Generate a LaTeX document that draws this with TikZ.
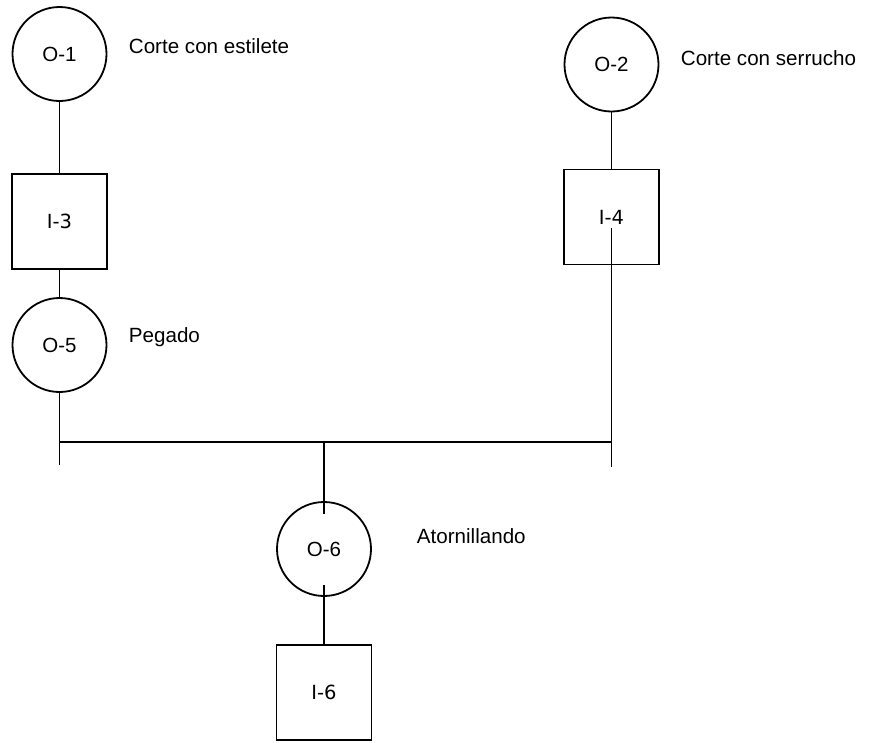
\documentclass[tikz,border=0pt]{standalone}
\usepackage{fontspec}
\setmainfont{Liberation Sans}
\newfontfamily\boxfont{DejaVu Sans}
\begin{document}
\begin{tikzpicture}[x=1pt,y=-1pt,
  line width=1.8pt,
  opnode/.style={draw,circle,minimum size=94pt,inner sep=0pt,
    font=\fontsize{20.5}{24}\selectfont},
  insnode/.style={draw,rectangle,minimum width=95pt,minimum height=95pt,
    inner sep=0pt,font=\boxfont\fontsize{19.5}{23}\selectfont},
  note/.style={anchor=base west,inner sep=0pt,font=\fontsize{20.6}{24}\selectfont}]
\useasboundingbox (0,0) rectangle (870,742);

% operations and inspections
\node[opnode]  (o1) at (59.5,54)  {O-1};
\node[insnode] (i3) at (59.5,221.5) {I-3};
\node[opnode]  (o5) at (59.5,345) {O-5};
\node[opnode]  (o2) at (611.5,64.5) {O-2};
\node[insnode] (i4) at (611.5,217) {I-4};
\node[opnode]  (o6) at (324,549) {O-6};
\node[insnode] (i6) at (324,692.5) {I-6};

% descriptions
\node[note] (t1) at (128,53)  {Corte con estilete};
\node[note] (t2) at (680,65)  {Corte con serrucho};
\node[note] (t5) at (128,342) {Pegado};
\node[note] (t6) at (416,543) {Atornillando};

% junction points
\coordinate (lbar) at (59.5,442);
\coordinate (rbar) at (611.5,442);
\coordinate (mbar) at (324,442);
\coordinate (lend) at (59.5,465);
\coordinate (rend) at (611.5,467);
\coordinate (i4in) at (611.5,228);
\coordinate (o6in) at (324,514);
\coordinate (o6out) at (324,585);

% connectors
\draw (o1.south) -- (i3.north);
\draw (i3.south) -- (o5.north);
\draw (o5.south) -- (lend);
\draw (o2.south) -- (i4.north);
\draw (i4in) -- (rend);
\draw (lbar) -- (rbar);
\draw (mbar) -- (o6in);
\draw (o6out) -- (i6.north);
\end{tikzpicture}
\end{document}
